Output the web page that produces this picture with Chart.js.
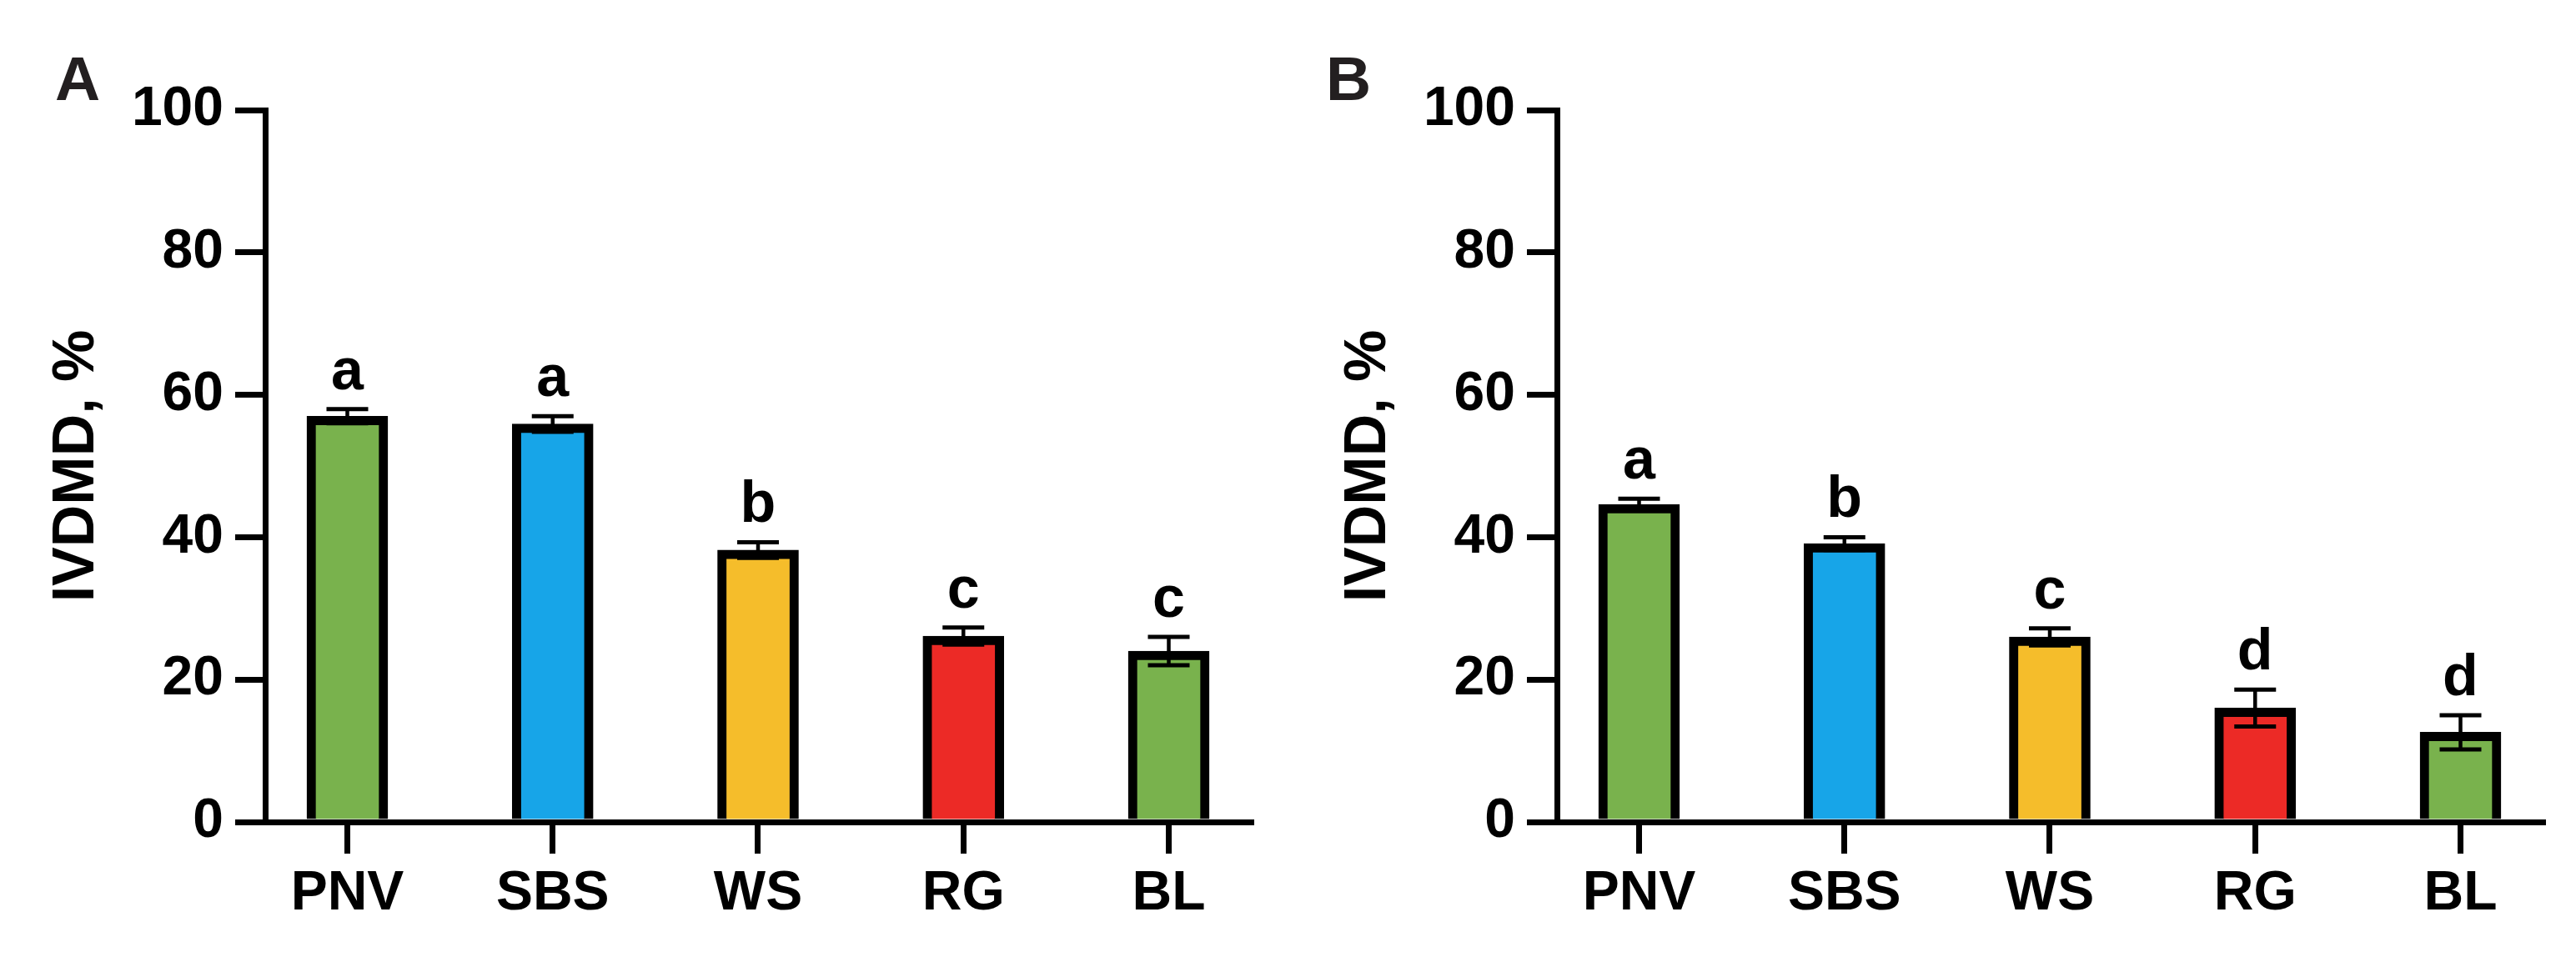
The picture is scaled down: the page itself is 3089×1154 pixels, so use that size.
<!DOCTYPE html>
<html>
<head>
<meta charset="utf-8">
<script src="https://cdn.jsdelivr.net/npm/chart.js@4"></script>
<style>
  html, body { margin: 0; padding: 0; background: #ffffff; }
  body { width: 3089px; height: 1154px; position: relative; overflow: hidden; }
  canvas { position: absolute; top: 0; }
  .panel { position: absolute; font-family: "Liberation Sans", Arial, sans-serif; font-weight: bold;
           font-size: 75px; line-height: 75px; color: #231f20; }
</style>
</head>
<body>
<div class="panel" style="left:66px; top:57px;">A</div>
<div class="panel" style="left:1590px; top:57px;">B</div>
<canvas id="chartA" width="1540" height="1154" style="left:0px;"></canvas>
<canvas id="chartB" width="1540" height="1154" style="left:1549px;"></canvas>
<script>
const categories = ['PNV', 'SBS', 'WS', 'RG', 'BL'];
const meanA = [57.0, 55.9, 38.2, 26.1, 24.0];
const semA = [1.0, 1.1, 1.1, 1.2, 2.0];
const lettersA = ['a', 'a', 'b', 'c', 'c'];
const meanB = [44.6, 39.1, 26.0, 16.0, 12.6];
const semB = [0.8, 0.9, 1.2, 2.6, 2.4];
const lettersB = ['a', 'b', 'c', 'd', 'd'];
const barColors = ['#79b24d', '#17a5e8', '#f5bd2b', '#ec2a26', '#79b24d'];
const yTicks = [0, 20, 40, 60, 80, 100];
const yTitle = 'IVDMD, %';

const FONT = '"Liberation Sans", Arial, sans-serif';

const errorBarPlugin = {
  id: 'errorBars',
  afterDatasetsDraw(chart) {
    const ctx = chart.ctx;
    const yScale = chart.scales.y;
    const meta = chart.getDatasetMeta(0);
    const ds = chart.data.datasets[0];
    ctx.save();
    ctx.strokeStyle = '#000';
    ctx.fillStyle = '#000';
    meta.data.forEach((el, i) => {
      const v = ds.data[i].y;
      const e = ds.errors[i];
      const x = el.x;
      const yTop = yScale.getPixelForValue(v + e);
      const yBot = yScale.getPixelForValue(v - e);
      ctx.lineWidth = 4.5;
      ctx.beginPath();
      ctx.moveTo(x, yBot);
      ctx.lineTo(x, yTop);
      ctx.stroke();
      ctx.lineWidth = 5;
      ctx.beginPath();
      ctx.moveTo(x - 25, yTop); ctx.lineTo(x + 25, yTop);
      ctx.moveTo(x - 25, yBot); ctx.lineTo(x + 25, yBot);
      ctx.stroke();
      ctx.font = 'bold 70px ' + FONT;
      ctx.textAlign = 'center';
      ctx.textBaseline = 'alphabetic';
      ctx.fillText(ds.letters[i], x, yTop - 24);
    });
    ctx.restore();
  }
};

function makeChart(id, means, sems, letters) {
  const ctx = document.getElementById(id);
  return new Chart(ctx, {
    type: 'bar',
    data: {
      datasets: [{
        data: means.map((v, i) => ({ x: i, y: v })),
        errors: sems,
        letters: letters,
        backgroundColor: barColors,
        borderColor: '#000',
        borderWidth: 11,
        barThickness: 97
      }]
    },
    options: {
      responsive: false,
      animation: false,
      events: [],
      layout: { padding: { left: 0, right: 40, top: 132, bottom: 0 } },
      plugins: { legend: { display: false }, tooltip: { enabled: false } },
      scales: {
        x: {
          type: 'linear',
          min: -0.4,
          max: 4.4,
          offset: false,
          z: 1,
          afterBuildTicks: (s) => { s.ticks = categories.map((c, i) => ({ value: i })); },
          afterFit: (s) => { s.height = 168; },
          grid: { offset: false, drawOnChartArea: false, drawTicks: true, tickLength: 38, lineWidth: 7, color: '#000', tickColor: '#000' },
          border: { display: true, width: 7, color: '#000' },
          ticks: {
            autoSkip: false, maxRotation: 0, minRotation: 0, padding: 9,
            color: '#000', font: { family: FONT, weight: 'bold', size: 66 },
            callback: (v) => categories[v]
          }
        },
        y: {
          min: 0,
          max: 100,
          z: 1,
          afterBuildTicks: (s) => { s.ticks = yTicks.map(v => ({ value: v })); },
          afterFit: (s) => { s.width = 318; },
          grid: { drawOnChartArea: false, drawTicks: true, tickLength: 36, lineWidth: 7, color: '#000', tickColor: '#000' },
          border: { display: true, width: 7, color: '#000' },
          ticks: {
            padding: 14, color: '#000',
            font: { family: FONT, weight: 'bold', size: 66 }
          },
          title: {
            display: true, text: yTitle, color: '#000',
            font: { family: FONT, weight: 'bold', size: 70 },
            padding: { top: 51, bottom: 0 }
          }
        }
      }
    },
    plugins: [errorBarPlugin]
  });
}

makeChart('chartA', meanA, semA, lettersA);
makeChart('chartB', meanB, semB, lettersB);
</script>
</body>
</html>
